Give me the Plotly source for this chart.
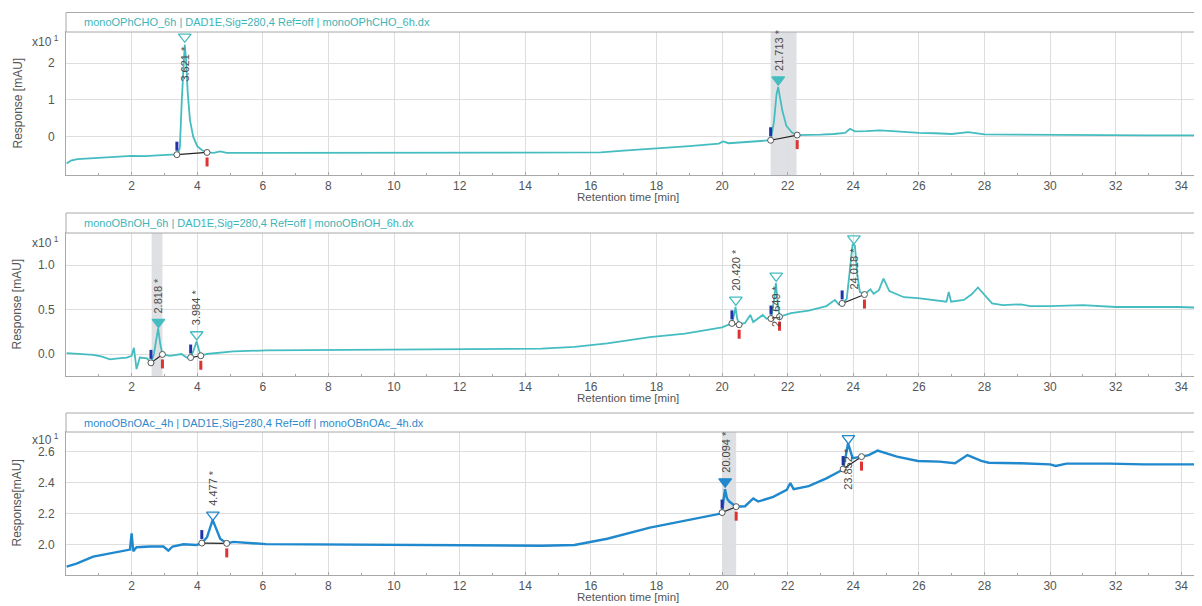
import plotly.graph_objects as go

# ---------------- data ----------------
x_ticks = [2, 4, 6, 8, 10, 12, 14, 16, 18, 20, 22, 24, 26, 28, 30, 32, 34]
x_minor = [1, 3, 5, 7, 9, 11, 13, 15, 17, 19, 21, 23, 25, 27, 29, 31, 33]

headers = [
    "monoOPhCHO_6h | DAD1E,Sig=280,4 Ref=off | monoOPhCHO_6h.dx",
    "monoOBnOH_6h | DAD1E,Sig=280,4 Ref=off | monoOBnOH_6h.dx",
    "monoOBnOAc_4h | DAD1E,Sig=280,4 Ref=off | monoOBnOAc_4h.dx",
]
y_titles = ["Response [mAU]", "Response [mAU]", "Response[mAU]"]

# Panel 1 (x10^1 mAU)
p1_time = [0.02, 0.15, 0.35, 0.7, 1.2, 1.6, 2.0, 2.4, 2.8, 3.2, 3.40, 3.47, 3.53, 3.58, 3.62,
           3.66, 3.71, 3.78, 3.88, 4.0, 4.15, 4.3, 4.5, 4.7, 4.9, 6, 8, 10, 12, 14, 15.5, 16.3,
           17, 18, 19, 19.9, 20.03, 20.2, 20.6, 21.0, 21.48, 21.58, 21.66, 21.71, 21.78, 21.84,
           21.96, 22.13, 22.29, 22.6, 23.0, 23.4, 23.75, 23.9, 24.05, 24.4, 24.8, 25.2, 25.6,
           26, 26.5, 27, 27.5, 27.8, 28, 29, 30, 31, 32, 33, 34, 34.7]
p1_resp = [-0.72, -0.64, -0.60, -0.58, -0.56, -0.54, -0.51, -0.52, -0.49, -0.48, -0.48, -0.30,
           1.00, 2.10, 2.50, 2.10, 1.20, 0.45, 0.00, -0.25, -0.36, -0.42, -0.43, -0.39, -0.43,
           -0.43, -0.43, -0.43, -0.43, -0.43, -0.43, -0.42, -0.37, -0.32, -0.25, -0.18, -0.12,
           -0.17, -0.14, -0.11, -0.09, 0.40, 1.15, 1.35, 1.00, 0.70, 0.30, 0.12, 0.05, 0.05,
           0.06, 0.08, 0.11, 0.22, 0.15, 0.16, 0.18, 0.16, 0.13, 0.11, 0.10, 0.08, 0.13, 0.09,
           0.07, 0.06, 0.05, 0.05, 0.045, 0.04, 0.04, 0.04]
p1_peak_label = ["3.621 *", "21.713 *"]
p1_peak_rt = [3.621, 21.713]
p1_peak_mark = [2.71, 1.55]
p1_peak_filled = [False, True]
p1_label_below = [True, False]
p1_start_t = [3.38, 21.48]
p1_start_v = [-0.48, -0.09]
p1_end_t = [4.30, 22.29]
p1_end_v = [-0.42, 0.05]
p1_band = [21.48, 22.27]

# Panel 2 (x10^1 mAU)
p2_time = [0.02, 0.4, 0.83, 1.1, 1.34, 1.6, 1.85, 2.0, 2.07, 2.15, 2.25, 2.47, 2.59, 2.68, 2.76,
           2.81, 2.87, 2.94, 3.17, 3.52, 3.68, 3.80, 3.90, 3.98, 4.05, 4.11, 4.29, 5.1, 6.1, 8.1,
           10, 11.7, 13, 14.5, 15.5, 16.5, 17.8, 18.87, 20.0, 20.30, 20.37, 20.41, 20.46, 20.52,
           20.7, 20.86, 20.95, 21.24, 21.35, 21.49, 21.58, 21.64, 21.69, 21.75, 22.1, 22.64,
           23.18, 23.44, 23.55, 23.66, 23.8, 23.9, 23.98, 24.05, 24.12, 24.2, 24.34, 24.52,
           24.62, 24.78, 24.92, 25.1, 25.54, 25.97, 26.4, 26.84, 26.91, 26.98, 27.37, 27.6,
           27.8, 28.02, 28.23, 28.56, 29.1, 29.4, 30, 31, 32, 33.9, 34.7]
p2_resp = [0.01, 0.0, -0.01, -0.03, -0.06, -0.05, -0.04, -0.02, 0.07, -0.17, -0.04, -0.05,
           -0.10, 0.0, 0.2, 0.29, 0.12, -0.005, -0.02, 0.0, -0.04, -0.04, 0.05, 0.14, 0.05,
           -0.02, 0.0, 0.03, 0.04, 0.045, 0.05, 0.055, 0.05, 0.06, 0.08, 0.12, 0.19, 0.23, 0.30,
           0.345, 0.45, 0.53, 0.4, 0.33, 0.35, 0.44, 0.36, 0.44, 0.40, 0.40, 0.6, 0.8, 0.6, 0.42,
           0.46, 0.49, 0.54, 0.61, 0.56, 0.57, 0.62, 1.0, 1.24, 1.22, 0.9, 0.7, 0.67, 0.73, 0.68,
           0.72, 0.85, 0.71, 0.64, 0.63, 0.61, 0.59, 0.70, 0.59, 0.61, 0.67, 0.75, 0.66, 0.57,
           0.55, 0.56, 0.54, 0.54, 0.55, 0.53, 0.53, 0.52]
p2_peak_label = ["2.818 *", "3.984 *", "20.420 *", "21.649 *", "24.018 *"]
p2_peak_rt = [2.818, 3.984, 20.420, 21.649, 24.018]
p2_peak_mark = [0.36, 0.22, 0.61, 0.88, 1.30]
p2_peak_filled = [True, False, False, False, False]
p2_label_below = [False, False, False, True, True]
p2_start_t = [2.59, 3.80, 20.30, 21.49, 23.66]
p2_start_v = [-0.10, -0.04, 0.345, 0.40, 0.57]
p2_end_t = [2.94, 4.11, 20.52, 21.75, 24.34]
p2_end_v = [-0.005, -0.02, 0.33, 0.42, 0.67]
p2_band = [2.61, 2.94]

# Panel 3 (x10^1 mAU)
p3_time = [0.02, 0.32, 0.83, 1.34, 1.85, 1.95, 2.0, 2.05, 2.15, 2.56, 2.97, 3.12, 3.25, 3.58,
           3.98, 4.14, 4.30, 4.40, 4.47, 4.55, 4.7, 4.9, 5.1, 6.1, 8.15, 10, 11.7, 13, 14.5,
           15.5, 16.5, 17.8, 18.87, 20.0, 20.05, 20.09, 20.15, 20.22, 20.43, 20.7, 20.95, 21.1,
           21.56, 21.97, 22.08, 22.18, 22.64, 23.18, 23.66, 23.75, 23.84, 23.92, 23.98, 24.25,
           24.47, 24.74, 25.33, 25.97, 26.62, 27.1, 27.48, 27.9, 28.13, 29.1, 30.0, 30.17, 30.5,
           31.8, 32.86, 34.7]
p3_resp = [1.86, 1.88, 1.925, 1.946, 1.963, 1.97, 2.075, 1.96, 1.985, 1.99, 1.99, 1.963, 1.99,
           2.004, 2.0, 2.012, 2.05, 2.12, 2.161, 2.12, 2.04, 2.01, 2.02, 2.005, 2.003, 2.0,
           1.998, 1.995, 1.995, 2.0, 2.04, 2.112, 2.157, 2.204, 2.30, 2.36, 2.30, 2.28, 2.247,
           2.25, 2.30, 2.28, 2.31, 2.355, 2.40, 2.36, 2.38, 2.43, 2.484, 2.55, 2.656, 2.60, 2.56,
           2.57, 2.58, 2.609, 2.57, 2.542, 2.538, 2.527, 2.58, 2.542, 2.531, 2.527, 2.52, 2.51,
           2.525, 2.525, 2.52, 2.52]
p3_peak_label = ["4.477 *", "20.094 *", "23.852 *"]
p3_peak_rt = [4.477, 20.094, 23.852]
p3_peak_mark = [2.194, 2.409, 2.688]
p3_peak_filled = [False, True, False]
p3_label_below = [False, False, True]
p3_start_t = [4.14, 20.0, 23.69]
p3_start_v = [2.012, 2.209, 2.49]
p3_end_t = [4.90, 20.43, 24.25]
p3_end_v = [2.01, 2.247, 2.57]
p3_band = [20.0, 20.43]

y_ticks = [[0, 1, 2], [0.0, 0.5, 1.0], [2.0, 2.2, 2.4, 2.6]]
y_fmt = ["d", ".1f", ".1f"]
y_ranges = [[-1.03, 2.84], [-0.248, 1.364], [1.806, 2.729]]

# ---------------- styling ----------------
OFF = 8                      # page body margin of the browser
W, H = 1202 - OFF, 606 - OFF
TEAL = "#45bdc0"
TEAL_TXT = "#3db4b8"
BLUE = "#2088cc"
BLUE_TXT = "#2e8acb"
FONT = "Liberation Sans, Arial, sans-serif"
TICK_COL = "#555555"
GRID = "#dedede"
BORDER = "#a8a8a8"

def px_x(p):
    return (p - OFF) / W

def px_y(p):
    return 1 - (p - OFF) / H

plot_left = 66
plot_px = [(32, 175), (233, 376), (432, 575)]
header_px = [(12.5, 32), (213, 233), (413, 432)]
exp_px = [41, 242, 439]
line_w = [1.8, 1.8, 2.4]

panels = [
    (p1_time, p1_resp, p1_peak_label, p1_peak_rt, p1_peak_mark, p1_peak_filled, p1_label_below,
     p1_start_t, p1_start_v, p1_end_t, p1_end_v, p1_band, TEAL, TEAL_TXT),
    (p2_time, p2_resp, p2_peak_label, p2_peak_rt, p2_peak_mark, p2_peak_filled, p2_label_below,
     p2_start_t, p2_start_v, p2_end_t, p2_end_v, p2_band, TEAL, TEAL_TXT),
    (p3_time, p3_resp, p3_peak_label, p3_peak_rt, p3_peak_mark, p3_peak_filled, p3_label_below,
     p3_start_t, p3_start_v, p3_end_t, p3_end_v, p3_band, BLUE, BLUE_TXT),
]

fig = go.Figure()
shapes = []
annotations = []
layout_axes = {}

for i, (t, v, labels, rts, marks, filled, below, st, sv, et, ev, band, col, tcol) in enumerate(panels):
    n = i + 1
    xa = "x" if n == 1 else f"x{n}"
    ya = "y" if n == 1 else f"y{n}"
    xname = "xaxis" if n == 1 else f"xaxis{n}"
    yname = "yaxis" if n == 1 else f"yaxis{n}"
    top, bot = plot_px[i]

    layout_axes[xname] = dict(
        domain=[px_x(plot_left), 1.0], anchor=ya, range=[0, 34.63],
        tickmode="array", tickvals=x_ticks, showgrid=True, gridcolor=GRID, gridwidth=1,
        showline=True, linecolor=BORDER, linewidth=1, mirror=True,
        ticks="inside", ticklen=3, tickcolor=BORDER,
        minor=dict(tickmode="array", tickvals=x_minor, ticks="inside", ticklen=2,
                   tickcolor=BORDER, showgrid=False),
        tickfont=dict(family=FONT, size=12, color=TICK_COL), zeroline=False,
    )
    layout_axes[yname] = dict(
        domain=[px_y(bot), px_y(top)], anchor=xa, range=y_ranges[i],
        tickmode="array", tickvals=y_ticks[i], tickformat=y_fmt[i],
        showgrid=True, gridcolor=GRID, gridwidth=1, zeroline=False,
        showline=True, linecolor=BORDER, linewidth=1, mirror=False,
        ticks="", ticklabelstandoff=8,
        tickfont=dict(family=FONT, size=12, color=TICK_COL),
    )

    # selected-peak band
    shapes.append(dict(type="rect", xref=xa, yref=f"{ya} domain", x0=band[0], x1=band[1],
                       y0=0, y1=1, fillcolor="#dfe0e3", line=dict(width=0), layer="below"))

    # chromatogram trace
    fig.add_trace(go.Scatter(x=t, y=v, mode="lines", line=dict(color=col, width=line_w[i]),
                             xaxis=xa, yaxis=ya, showlegend=False, hoverinfo="skip"))

    # baselines
    bx, by = [], []
    for a, b, c, d in zip(st, sv, et, ev):
        bx += [a, c, None]
        by += [b, d, None]
    fig.add_trace(go.Scatter(x=bx, y=by, mode="lines", line=dict(color="#222222", width=1.2),
                             xaxis=xa, yaxis=ya, showlegend=False, hoverinfo="skip"))

    # start / end bars
    for a, b in zip(st, sv):
        shapes.append(dict(type="rect", xref=xa, yref=ya, xsizemode="pixel", ysizemode="pixel",
                           xanchor=a, yanchor=b, x0=-1.5, x1=1.5, y0=4, y1=13,
                           fillcolor="#2233aa", line=dict(width=0)))
    for a, b in zip(et, ev):
        shapes.append(dict(type="rect", xref=xa, yref=ya, xsizemode="pixel", ysizemode="pixel",
                           xanchor=a, yanchor=b, x0=-1.5, x1=1.5, y0=-14, y1=-5,
                           fillcolor="#dd3333", line=dict(width=0)))

    # start / end circles
    fig.add_trace(go.Scatter(x=st + et, y=sv + ev, mode="markers",
                             marker=dict(symbol="circle", size=6, color="white",
                                         line=dict(color="#555555", width=1)),
                             xaxis=xa, yaxis=ya, showlegend=False, hoverinfo="skip"))

    # apex triangles
    for rt, m, f in zip(rts, marks, filled):
        fig.add_trace(go.Scatter(x=[rt], y=[m], mode="markers",
                                 marker=dict(symbol="triangle-down" if f else "triangle-down-open",
                                             size=11, color=col, line=dict(color=col, width=1.3)),
                                 xaxis=xa, yaxis=ya, showlegend=False, hoverinfo="skip",
                                 cliponaxis=False))

    # peak labels
    for lab, rt, m, bl in zip(labels, rts, marks, below):
        annotations.append(dict(x=rt, y=m, xref=xa, yref=ya, text=lab, showarrow=False,
                                textangle=-90, yanchor="top" if bl else "bottom",
                                xanchor="center", yshift=-7 if bl else 7,
                                font=dict(family=FONT, size=11, color="#4a4a4a")))

    # header box
    h0, h1 = header_px[i]
    shapes.append(dict(type="rect", xref="paper", yref="paper", x0=px_x(plot_left), x1=1.01,
                       y0=px_y(h1), y1=px_y(h0), line=dict(color=BORDER, width=1),
                       fillcolor="white", layer="above"))
    annotations.append(dict(x=px_x(82), y=px_y((h0 + h1) / 2), xref="paper", yref="paper",
                            xanchor="left", yanchor="middle", showarrow=False, text=headers[i],
                            font=dict(family=FONT, size=11, color=tcol)))

    # exponent label
    annotations.append(dict(x=px_x(61), y=px_y(exp_px[i]), xref="paper", yref="paper",
                            xanchor="right", yanchor="middle", showarrow=False,
                            text="x10<sup> 1</sup>",
                            font=dict(family=FONT, size=12, color=TICK_COL)))

    # y title
    annotations.append(dict(x=px_x(17), y=px_y((top + bot) / 2), xref="paper", yref="paper",
                            xanchor="center", yanchor="middle", showarrow=False,
                            text=y_titles[i], textangle=-90,
                            font=dict(family=FONT, size=12, color=TICK_COL)))

    # x title
    annotations.append(dict(x=px_x(628), y=px_y(bot + 21.5), xref="paper", yref="paper",
                            xanchor="center", yanchor="middle", showarrow=False,
                            text="Retention time [min]",
                            font=dict(family=FONT, size=11.5, color=TICK_COL)))

fig.update_layout(
    width=W, height=H, margin=dict(l=0, r=0, t=0, b=0),
    paper_bgcolor="white", plot_bgcolor="white",
    shapes=shapes, annotations=annotations, showlegend=False,
    **layout_axes,
)

fig.write_html("out.html")
